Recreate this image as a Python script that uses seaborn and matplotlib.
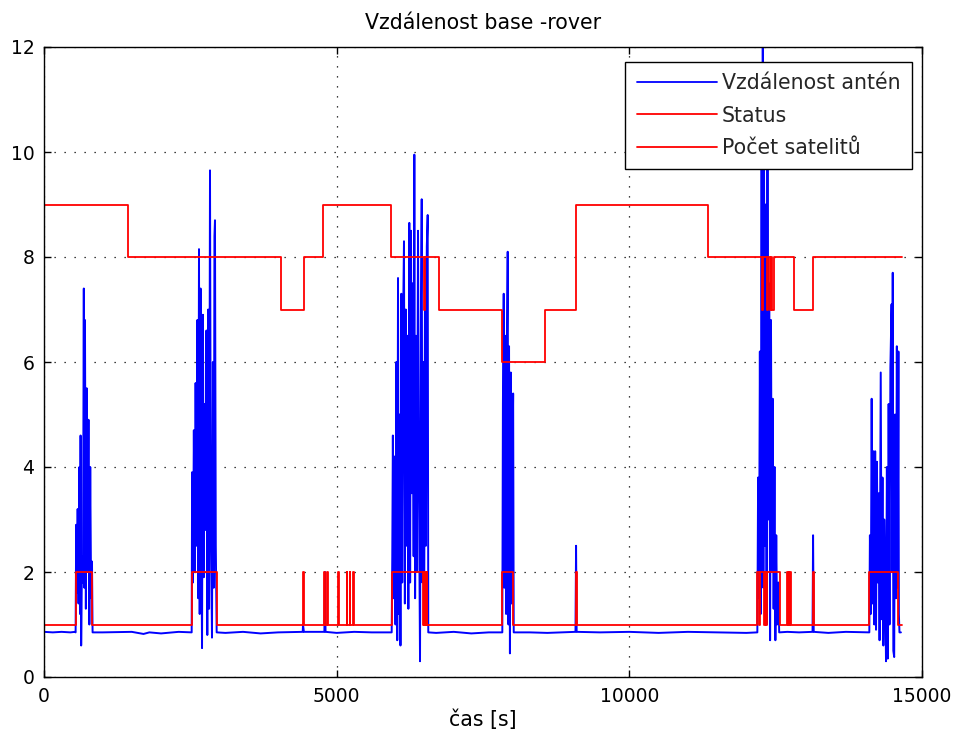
import numpy as np
import pandas as pd
import matplotlib
matplotlib.use("Agg")
import matplotlib.pyplot as plt
import seaborn as sns

# ---------------- data ----------------
title = "Vzdálenost base -rover"
xlabel = "čas [s]"
labels = ["Vzdálenost antén", "Status", "Počet satelitů"]
xticks = [0, 5000, 10000, 15000]
yticks = [0, 2, 4, 6, 8, 10, 12]

# blue: distance between antennas (baseline ~0.85 with bursts)
blue_base_t = [0, 150, 300, 450, 530]
blue_base_v = [0.86, 0.85, 0.86, 0.85, 0.86]

burst1_t = [540, 550, 560, 575, 590, 605, 615, 625, 635, 650, 665, 680, 690, 700, 715,
            730, 745, 760, 775, 790, 805, 820, 830]
burst1_v = [0.85, 2.9, 1.6, 3.2, 1.4, 4.0, 1.2, 4.6, 0.6, 2.3, 1.8, 7.4, 1.7, 6.8, 1.3,
            5.5, 2.0, 4.9, 1.0, 4.0, 1.5, 2.2, 0.85]

gap1_t = [1000, 1500, 1700, 1800, 2000, 2300, 2500]
gap1_v = [0.85, 0.86, 0.82, 0.85, 0.83, 0.86, 0.85]

burst2_t = [2523, 2530, 2545, 2560, 2575, 2590, 2605, 2620, 2635, 2648, 2660, 2675, 2690,
            2700, 2715, 2730, 2745, 2760, 2775, 2790, 2805, 2820, 2836, 2850, 2870, 2885,
            2900, 2912, 2921, 2935, 2950]
burst2_v = [0.85, 3.9, 1.8, 4.7, 2.0, 5.6, 2.5, 6.8, 1.5, 8.15, 1.2, 7.4, 2.3,
            0.55, 6.9, 1.9, 5.2, 2.8, 6.6, 0.8, 7.0, 1.3, 9.65, 3.0, 0.75, 6.0,
            1.7, 8.4, 8.7, 2.5, 0.85]

gap2_t = [3100, 3400, 3700, 4000, 4420, 4425, 4440, 4790, 4800, 4810, 5000, 5300, 5600, 5920]
gap2_v = [0.84, 0.86, 0.83, 0.85, 0.86, 1.0, 0.86, 0.86, 2.0, 0.86, 0.84, 0.86, 0.85, 0.85]

burst3_t = [5940, 5950, 5960, 5975, 5990, 6005, 6020, 6035, 6048, 6060, 6075, 6090, 6105,
            6120, 6135, 6150, 6165, 6180, 6195, 6210, 6225, 6241, 6255, 6270, 6285, 6300,
            6315, 6327, 6340, 6355, 6370, 6390, 6405, 6424, 6440, 6453, 6465, 6480, 6495,
            6510, 6525, 6540, 6555, 6565]
burst3_v = [0.85, 2.3, 4.6, 1.5, 4.2, 1.0, 6.0, 0.7, 7.6, 1.2, 5.0, 0.6, 7.3,
            1.8, 6.8, 8.3, 1.4, 7.0, 2.5, 6.5, 1.3, 8.65, 1.8, 8.5, 3.5, 7.5,
            2.3, 9.95, 1.5, 6.5, 2.0, 8.5, 3.8, 0.3, 7.0, 9.1, 1.8, 6.0, 1.0,
            8.0, 2.5, 8.2, 8.8, 0.85]

gap3_t = [6700, 7000, 7300, 7600, 7820]
gap3_v = [0.84, 0.86, 0.83, 0.85, 0.85]

burst4_t = [7830, 7840, 7854, 7865, 7880, 7895, 7910, 7922, 7935, 7945, 7960, 7975, 7990,
            8000, 8015, 8025]
burst4_v = [0.85, 5.2, 7.3, 1.7, 6.5, 1.2, 6.5, 8.1, 1.0, 6.3, 0.45, 5.8, 1.4,
            3.7, 5.4, 0.85]

gap4_t = [8300, 8600, 9080, 9090, 9100, 9500, 10000, 10500, 11000, 11500, 12000, 12180]
gap4_v = [0.85, 0.84, 0.86, 2.5, 0.86, 0.85, 0.86, 0.84, 0.86, 0.85, 0.84, 0.85]

burst5_t = [12187, 12200, 12215, 12230, 12245, 12260, 12270, 12280, 12290, 12300, 12315,
            12330, 12345, 12360, 12375, 12390, 12405, 12420, 12435, 12450, 12465, 12480,
            12495, 12510, 12525, 12545, 12560]
burst5_v = [0.85, 3.8, 1.5, 6.2, 1.2, 9.9, 2.0, 12.5, 1.7, 10.4, 2.5,
            9.0, 1.0, 11.3, 3.0, 7.5, 0.7, 6.8, 2.0, 5.3, 1.3, 4.0,
            0.7, 2.7, 1.0, 1.8, 0.85]

gap5_t = [12700, 12900, 13130, 13139, 13150, 13400, 13700, 14090]
gap5_v = [0.86, 0.85, 0.86, 2.7, 0.86, 0.84, 0.86, 0.85]

burst6_t = [14100, 14110, 14125, 14140, 14155, 14170, 14185, 14200, 14215, 14230, 14245,
            14260, 14275, 14295, 14310, 14325, 14340, 14355, 14370, 14385, 14400, 14415,
            14430, 14445, 14460, 14480, 14490, 14500, 14510, 14525, 14540, 14555, 14570,
            14585, 14597, 14605, 14615, 14640]
burst6_v = [0.85, 2.7, 1.2, 5.3, 1.4, 4.3, 1.0, 4.3, 0.9, 4.1, 1.8,
            3.5, 0.7, 5.8, 1.1, 3.8, 0.6, 3.0, 1.9, 0.3, 4.0, 0.35,
            5.2, 1.0, 5.9, 7.1, 2.0, 7.7, 0.5, 0.38, 5.0, 1.5, 6.3,
            1.7, 6.2, 1.2, 0.85, 0.85]

# red: RTK status (1 / 2), step values starting at each time
status_t = [0, 540, 825, 2523, 2950, 4425, 4440, 4790, 4805, 4830, 4845, 5030, 5045,
            5170, 5185, 5220, 5235, 5280, 5295, 5940, 6475, 6490, 6500, 6515, 6525,
            6540, 6550, 7830, 8018, 9085, 9100, 12187, 12220, 12235, 12300, 12315,
            12330, 12345, 12575, 12690, 12705, 12720, 12735, 12745, 12760, 13133,
            13148, 14100, 14595, 14660]
status_v = [1, 2, 1, 2, 1, 2, 1, 2, 1, 2, 1, 2, 1,
            2, 1, 2, 1, 2, 1, 2, 1, 2, 1, 2, 1,
            2, 1, 2, 1, 2, 1, 2, 1, 2, 1, 2,
            1, 2, 1, 2, 1, 2, 1, 2, 1, 2,
            1, 2, 1, 1]

# red: number of satellites, step values starting at each time
sat_t = [0, 1435, 4049, 4442, 4767, 5929, 6490, 6510, 6750, 7825, 8560, 9089, 11345,
         12260, 12280, 12350, 12375, 12400, 12420, 12440, 12465, 12814, 13139, 14660]
sat_v = [9, 8, 7, 8, 9, 8, 7, 8, 7, 6, 7, 9, 8,
         7, 8, 7, 8, 7, 8, 7, 8, 7, 8, 8]

# ---------------- assemble ----------------
blue_t = (blue_base_t + burst1_t + gap1_t + burst2_t + gap2_t + burst3_t + gap3_t +
          burst4_t + gap4_t + burst5_t + gap5_t + burst6_t)
blue_v = (blue_base_v + burst1_v + gap1_v + burst2_v + gap2_v + burst3_v + gap3_v +
          burst4_v + gap4_v + burst5_v + gap5_v + burst6_v)
df_blue = pd.DataFrame({"t": blue_t, "v": blue_v})
df_status = pd.DataFrame({"t": status_t, "v": status_v})
df_sat = pd.DataFrame({"t": sat_t, "v": sat_v})

sns.set_theme(style="ticks")
plt.rcParams["font.family"] = ["DejaVu Sans"]
plt.rcParams["xtick.direction"] = "in"
plt.rcParams["ytick.direction"] = "in"

fig = plt.figure(figsize=(9.56, 7.4), dpi=100)
ax = fig.add_axes([44 / 956, 63 / 740, 878 / 956, 630 / 740])

sns.lineplot(data=df_blue, x="t", y="v", ax=ax, color="#0000ff", lw=1.4,
             estimator=None, sort=False, label=labels[0])
sns.lineplot(data=df_status, x="t", y="v", ax=ax, color="#ff0000", lw=1.3,
             estimator=None, sort=False, drawstyle="steps-post", label=labels[1])
sns.lineplot(data=df_sat, x="t", y="v", ax=ax, color="#ff0000", lw=1.3,
             estimator=None, sort=False, drawstyle="steps-post", label=labels[2])

ax.set_xlim(0, 15000)
ax.set_ylim(0, 12)
ax.set_xticks(xticks)
ax.set_yticks(yticks)
ax.set_xticklabels([str(v) for v in xticks])
ax.set_yticklabels([str(v) for v in yticks])
ax.tick_params(axis="both", labelsize=13.5, colors="black", length=5, width=1,
               top=True, right=True, direction="in")
ax.tick_params(axis="x", pad=7)
ax.tick_params(axis="y", pad=7)
ax.grid(True, color="black", linestyle=(0, (1, 7)), linewidth=0.9)
for s in ax.spines.values():
    s.set_visible(True)
    s.set_color("black")
    s.set_linewidth(1.0)

ax.set_title(title, fontsize=14.8, pad=13, color="black")
ax.set_xlabel(xlabel, fontsize=14.8, labelpad=3, color="black")
ax.set_ylabel("")

leg = ax.legend(loc="upper right", bbox_to_anchor=((912 - 44) / 878, (677 - 62) / 630),
                borderaxespad=0, fontsize=14.8, frameon=True, fancybox=False,
                framealpha=1, edgecolor="black", handlelength=3.9, handletextpad=0.25,
                labelspacing=0.6, borderpad=0.55)
leg.get_frame().set_linewidth(1.0)
for h in leg.get_lines():
    h.set_linewidth(1.3)

fig.savefig("out.png", dpi=100, facecolor="white")
